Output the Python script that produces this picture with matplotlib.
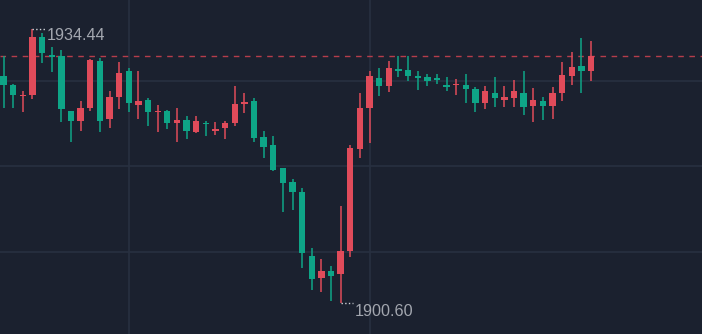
import matplotlib
matplotlib.use('Agg')
import numpy as np
import matplotlib.pyplot as plt

# OHLC values (red = up, green = down)
opens = [1928.59, 1927.52, 1926.13, 1926.29, 1933.36, 1931.22, 1931.05, 1924.28, 1923.09, 1924.61,
         1930.44, 1923.26, 1926.04, 1929.21, 1925.06, 1925.64, 1924.12, 1924.28, 1922.77, 1923.17,
         1921.70, 1922.84, 1921.82, 1922.15, 1922.77, 1925.18, 1925.51, 1921.08, 1920.13, 1917.23,
         1915.50, 1914.31, 1906.46, 1903.68, 1904.58, 1904.17, 1907.04, 1919.64, 1924.61, 1928.31,
         1927.40, 1929.49, 1929.33, 1928.59, 1928.43, 1928.31, 1927.52, 1927.45, 1927.48, 1927.03,
         1925.23, 1926.46, 1925.67, 1925.85, 1926.46, 1924.90, 1925.55, 1924.90, 1926.46, 1928.63,
         1929.82, 1929.21]
highs = [1931.05, 1927.60, 1926.78, 1934.44, 1933.85, 1932.13, 1931.79, 1924.34, 1925.51, 1930.68,
         1930.77, 1926.74, 1930.28, 1929.54, 1929.21, 1925.85, 1925.02, 1924.40, 1924.61, 1923.67,
         1923.67, 1923.05, 1922.96, 1923.09, 1927.36, 1926.46, 1925.85, 1921.82, 1921.20, 1917.26,
         1915.87, 1914.76, 1907.41, 1906.02, 1905.19, 1912.58, 1920.09, 1926.46, 1929.21, 1929.54,
         1930.44, 1931.05, 1931.05, 1929.21, 1928.80, 1928.80, 1928.51, 1928.19, 1928.80, 1927.20,
         1927.36, 1928.47, 1927.36, 1928.10, 1929.21, 1927.08, 1926.01, 1927.27, 1930.32, 1931.51,
         1933.23, 1932.90]
lows = [1924.61, 1924.62, 1924.20, 1925.80, 1930.16, 1929.05, 1922.96, 1920.46, 1921.86, 1924.32,
        1921.66, 1922.15, 1924.49, 1924.16, 1923.26, 1922.47, 1921.73, 1922.03, 1920.50, 1920.87,
        1921.54, 1921.20, 1921.33, 1920.80, 1922.47, 1923.99, 1920.43, 1918.46, 1916.93, 1911.84,
        1912.09, 1904.91, 1902.24, 1901.96, 1900.92, 1900.60, 1906.34, 1918.46, 1920.30, 1926.17,
        1926.58, 1928.51, 1928.01, 1926.87, 1927.40, 1927.57, 1926.74, 1926.25, 1925.23, 1924.20,
        1924.57, 1924.74, 1924.74, 1924.74, 1923.79, 1922.89, 1923.17, 1923.30, 1925.51, 1927.48,
        1926.46, 1927.98]
closes = [1927.52, 1926.29, 1926.25, 1933.36, 1931.39, 1930.97, 1924.49, 1923.09, 1924.61, 1930.56,
          1923.09, 1925.97, 1928.92, 1925.30, 1925.51, 1924.19, 1924.28, 1922.77, 1923.17, 1921.86,
          1923.05, 1922.64, 1922.03, 1922.77, 1925.11, 1925.39, 1920.92, 1919.81, 1917.02, 1915.38,
          1914.31, 1906.76, 1903.63, 1904.58, 1904.00, 1907.04, 1919.69, 1924.61, 1928.59, 1927.40,
          1929.54, 1929.21, 1928.59, 1928.31, 1927.98, 1928.10, 1927.27, 1927.61, 1926.95, 1925.23,
          1926.74, 1925.85, 1926.01, 1926.74, 1924.74, 1925.67, 1924.90, 1926.46, 1928.75, 1929.70,
          1929.21, 1931.05]

bg = '#1b212f'
grid_c = '#283040'
up_c = '#e04b5a'
down_c = '#0ea587'
label_c = '#a3a7af'

o = np.array(opens)
h = np.array(highs)
l = np.array(lows)
c = np.array(closes)
x = np.arange(len(o))
colors = [up_c if cc >= oo else down_c for oo, cc in zip(o, c)]

fig = plt.figure(figsize=(7.02, 3.34), dpi=100, facecolor=bg)
ax = fig.add_axes([0, 0, 1, 1])
ax.set_facecolor(bg)

# grid
for gy in [1927.98, 1917.47, 1906.88]:
    ax.axhline(gy, color=grid_c, lw=1.2, zorder=0)
for gx in [13, 38]:
    ax.axvline(gx, color=grid_c, lw=1.2, zorder=0)

# candles
ax.vlines(x, l, h, colors=colors, lw=1.1, zorder=2)
body_bottom = np.minimum(o, c)
body_h = np.maximum(np.abs(c - o), 0.15)
ax.bar(x, body_h, bottom=body_bottom, width=0.66, color=colors, zorder=3, linewidth=0)

# last price line
ax.axhline(c[-1], color='#b63d4b', lw=1, ls=(0, (4, 4)), zorder=1)

# high / low markers
ih = int(np.argmax(h))
il = int(np.argmin(l))
ax.plot([ih, ih + 1.35], [h[ih], h[ih]], ls=':', color='#d0d3d8', lw=1, zorder=4)
ax.plot([il, il + 1.3], [l[il], l[il]], ls=':', color='#d0d3d8', lw=1, zorder=4)
fnt = ['Liberation Sans Narrow', 'Liberation Sans', 'DejaVu Sans']
ax.annotate(f'{h[ih]:.2f}', xy=(ih, h[ih]), xytext=(14, -11.5), textcoords='offset pixels',
            color=label_c, fontsize=11.6, family=fnt, va='baseline', ha='left')
ax.annotate(f'{l[il]:.2f}', xy=(il, l[il]), xytext=(14, -12.7), textcoords='offset pixels',
            color=label_c, fontsize=11.6, family=fnt, va='baseline', ha='left')

ax.set_xlim(-0.374, 72.52)
ax.set_ylim(1896.82, 1937.95)
ax.axis('off')

fig.savefig('out.png', dpi=100, facecolor=bg)
